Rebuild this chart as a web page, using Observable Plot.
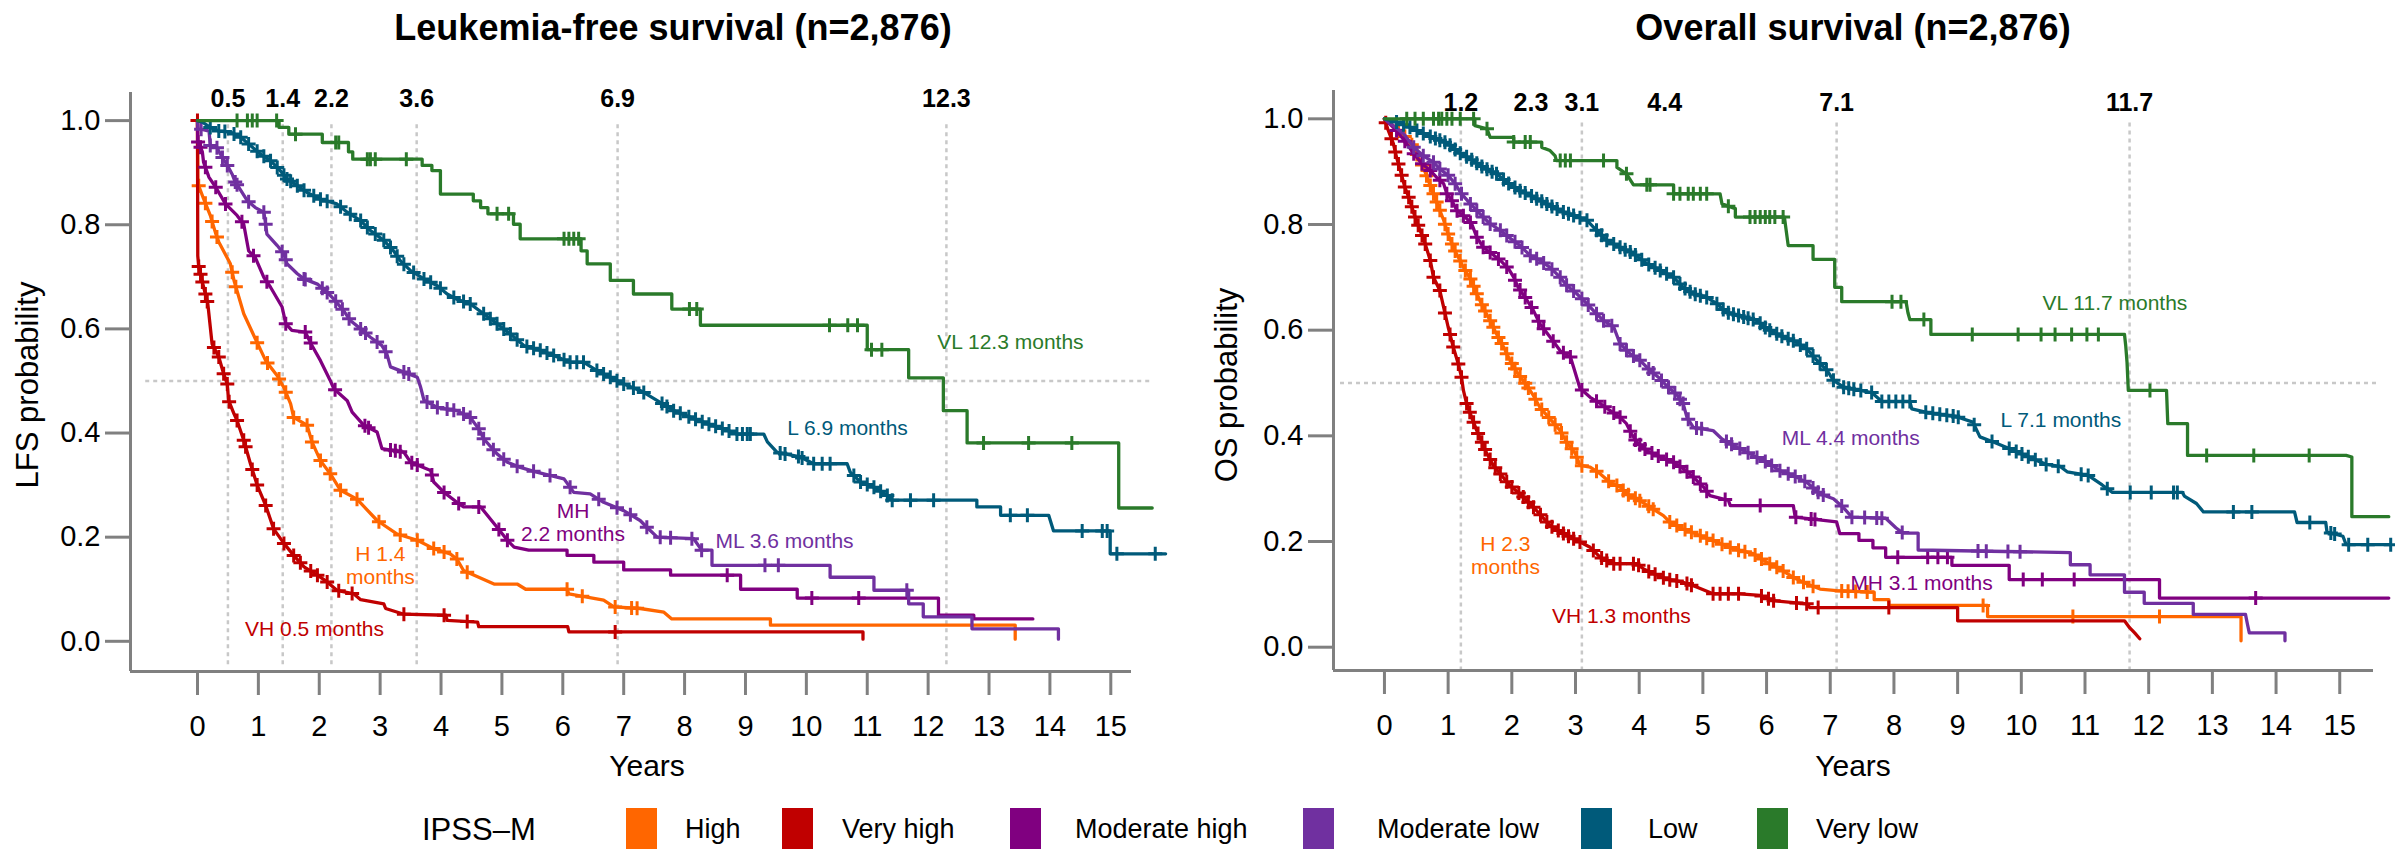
<!DOCTYPE html>
<html><head><meta charset="utf-8">
<script src="https://cdn.jsdelivr.net/npm/d3@7"></script>
<script src="https://cdn.jsdelivr.net/npm/@observablehq/plot@0.6"></script>
<style>
html,body{margin:0;padding:0;background:#fff;overflow:hidden;}
#root{position:relative;width:2395px;height:849px;font-family:"Liberation Sans",Arial,sans-serif;color:#000;}
.abs{position:absolute;white-space:nowrap;line-height:1;}
.panel{position:absolute;top:0;}
</style></head><body><div id="root"></div>
<script>
// ---------- categories & colours ----------
const groups = ["High", "Very high", "Moderate high", "Moderate low", "Low", "Very low"];
const groupColors = ["#FF6600", "#C00000", "#800080", "#7030A0", "#005A7A", "#2A7A2A"];
const legendTitle = "IPSS\u2013M";
const xTicks = [0,1,2,3,4,5,6,7,8,9,10,11,12,13,14,15];
const yTicks = [0, 0.2, 0.4, 0.6, 0.8, 1.0];

// ---------- Leukemia-free survival: curve vertices [years, probability] ----------
const lfsHigh = [[0,1],[0.005,0.88],[0.02,0.875],[0.10,0.85],[0.21,0.818],[0.30,0.783],[0.35,0.767],[0.54,0.725],[0.60,0.693],[0.76,0.629],[0.95,0.581],[1.12,0.539],[1.31,0.510],[1.42,0.487],[1.53,0.456],[1.58,0.43],[1.80,0.415],[1.88,0.383],[2.02,0.347],[2.18,0.322],[2.35,0.29],[2.62,0.273],[2.95,0.232],[3.28,0.206],[3.61,0.194],[3.88,0.178],[4.15,0.168],[4.26,0.158],[4.37,0.136],[4.48,0.13],[4.87,0.11],[5.25,0.11],[5.39,0.10],[6.07,0.10],[6.10,0.091],[6.67,0.079],[6.84,0.066],[7.27,0.063],[7.66,0.056],[7.79,0.043],[9.41,0.043],[9.41,0.031],[13.43,0.031],[13.43,0.004]];
const lfsVeryHigh = [[0,1],[0.005,0.74],[0.02,0.72],[0.08,0.69],[0.13,0.667],[0.17,0.648],[0.24,0.571],[0.35,0.546],[0.43,0.514],[0.49,0.494],[0.51,0.463],[0.60,0.437],[0.65,0.424],[0.76,0.386],[0.87,0.341],[0.98,0.30],[1.12,0.261],[1.25,0.216],[1.42,0.188],[1.58,0.165],[1.75,0.143],[1.97,0.127],[2.13,0.114],[2.29,0.098],[2.57,0.091],[2.68,0.080],[3.06,0.072],[3.09,0.063],[3.39,0.052],[4.08,0.050],[4.10,0.040],[4.60,0.037],[4.62,0.028],[6.08,0.028],[6.10,0.018],[10.93,0.018],[10.93,0.004]];
const lfsModHigh = [[0,1],[0.005,0.96],[0.03,0.955],[0.08,0.94],[0.10,0.92],[0.19,0.891],[0.30,0.872],[0.46,0.84],[0.65,0.818],[0.76,0.801],[0.84,0.75],[0.95,0.737],[1.09,0.699],[1.20,0.68],[1.39,0.642],[1.45,0.61],[1.55,0.597],[1.77,0.594],[1.88,0.568],[2.02,0.539],[2.18,0.501],[2.24,0.485],[2.46,0.462],[2.54,0.44],[2.73,0.415],[2.95,0.402],[3.03,0.37],[3.39,0.363],[3.50,0.344],[3.83,0.328],[3.88,0.306],[4.05,0.286],[4.26,0.267],[4.37,0.258],[4.65,0.258],[4.92,0.219],[5.09,0.194],[5.20,0.181],[5.44,0.175],[6.07,0.175],[6.07,0.165],[6.51,0.165],[6.51,0.152],[7.0,0.152],[7.0,0.137],[7.77,0.137],[7.77,0.127],[8.92,0.127],[8.92,0.10],[9.85,0.10],[9.85,0.083],[12.17,0.083],[12.17,0.05],[12.75,0.05],[12.75,0.043],[13.72,0.043]];
const lfsModLow = [[0,1],[0.01,0.985],[0.19,0.98],[0.21,0.952],[0.32,0.948],[0.41,0.929],[0.49,0.914],[0.57,0.897],[0.62,0.882],[0.68,0.872],[0.82,0.846],[0.95,0.833],[1.09,0.824],[1.12,0.801],[1.14,0.782],[1.31,0.76],[1.42,0.744],[1.47,0.725],[1.64,0.706],[1.75,0.696],[1.97,0.686],[2.13,0.67],[2.24,0.657],[2.40,0.635],[2.51,0.616],[2.68,0.60],[2.84,0.584],[3.03,0.568],[3.11,0.552],[3.17,0.527],[3.39,0.517],[3.61,0.507],[3.66,0.49],[3.72,0.463],[3.94,0.449],[4.26,0.443],[4.48,0.43],[4.62,0.408],[4.70,0.389],[4.92,0.36],[5.09,0.344],[5.30,0.334],[5.57,0.325],[6.02,0.312],[6.18,0.286],[6.45,0.283],[6.67,0.267],[7.0,0.251],[7.27,0.232],[7.38,0.219],[7.55,0.20],[8.15,0.197],[8.28,0.175],[8.45,0.175],[8.45,0.146],[10.39,0.146],[10.39,0.123],[11.11,0.123],[11.11,0.098],[11.68,0.098],[11.68,0.072],[11.92,0.072],[11.92,0.047],[12.72,0.047],[12.72,0.024],[14.14,0.024],[14.14,0.004]];
const lfsLow = [[0,1],[0.08,0.997],[0.21,0.987],[0.35,0.98],[0.54,0.978],[0.71,0.968],[0.87,0.952],[1.03,0.936],[1.20,0.923],[1.36,0.904],[1.47,0.888],[1.64,0.875],[1.80,0.862],[2.02,0.849],[2.29,0.84],[2.46,0.824],[2.68,0.808],[2.84,0.789],[3.06,0.77],[3.22,0.75],[3.33,0.731],[3.50,0.712],[3.72,0.696],[3.94,0.683],[4.10,0.667],[4.26,0.657],[4.48,0.648],[4.70,0.629],[4.92,0.61],[5.14,0.59],[5.36,0.568],[5.63,0.559],[5.91,0.546],[6.12,0.536],[6.34,0.536],[6.56,0.52],[6.78,0.507],[7.0,0.494],[7.3,0.48],[7.60,0.459],[7.82,0.443],[8.10,0.43],[8.37,0.418],[8.64,0.408],[8.86,0.398],[9.30,0.398],[9.36,0.383],[9.52,0.363],[9.90,0.354],[10.12,0.341],[10.67,0.341],[10.72,0.325],[10.89,0.306],[11.11,0.296],[11.33,0.28],[11.41,0.271],[12.80,0.271],[12.80,0.258],[13.19,0.258],[13.19,0.242],[13.98,0.242],[14.06,0.212],[14.99,0.212],[14.99,0.168],[15.9,0.168]];
const lfsVeryLow = [[0,1],[1.34,1],[1.34,0.987],[1.50,0.987],[1.50,0.974],[2.05,0.974],[2.05,0.958],[2.48,0.958],[2.48,0.94],[2.55,0.94],[2.55,0.926],[3.69,0.926],[3.69,0.914],[3.85,0.914],[3.85,0.904],[3.99,0.904],[3.99,0.859],[4.53,0.859],[4.53,0.846],[4.65,0.846],[4.65,0.833],[4.77,0.833],[4.77,0.821],[5.19,0.821],[5.19,0.801],[5.30,0.801],[5.30,0.773],[6.30,0.773],[6.30,0.75],[6.40,0.75],[6.40,0.725],[6.78,0.725],[6.78,0.693],[7.16,0.693],[7.16,0.667],[7.79,0.667],[7.79,0.638],[8.26,0.638],[8.26,0.607],[11.0,0.607],[11.0,0.56],[11.68,0.56],[11.68,0.506],[12.25,0.506],[12.25,0.443],[12.64,0.443],[12.64,0.381],[15.13,0.381],[15.13,0.256],[15.68,0.256]];

// censored observations (years)
const lfsHighCens = [0.02,0.13,0.24,0.32,0.57,0.63,0.98,1.15,1.34,1.45,1.58,1.80,1.88,2.02,2.18,2.35,2.62,2.98,3.33,3.61,3.88,4.05,4.26,4.43,6.07,6.32,6.86,7.13,7.22];
const lfsVeryHighCens = [0.0,0.02,0.05,0.08,0.13,0.16,0.27,0.35,0.43,0.49,0.52,0.65,0.76,0.79,0.90,0.98,1.12,1.25,1.42,1.58,1.69,1.86,1.97,2.13,2.32,2.54,3.39,4.05,4.43,6.86];
const lfsModHighCens = [0.01,0.05,0.13,0.30,0.46,0.73,0.92,1.14,1.45,1.77,1.86,2.26,2.75,2.81,3.17,3.25,3.33,3.52,3.61,3.85,4.05,4.29,4.62,4.95,5.09,8.70,10.09,10.86];
const lfsModLowCens = [0.06,0.21,0.32,0.41,0.49,0.62,0.65,0.84,1.09,1.12,1.39,1.45,1.75,1.77,2.05,2.13,2.27,2.38,2.49,2.68,2.76,2.95,3.09,3.39,3.47,3.77,3.94,4.10,4.21,4.37,4.48,4.62,4.70,4.86,5.03,5.25,5.52,5.79,6.12,6.59,6.89,7.11,7.38,7.60,7.77,8.12,8.28,9.32,9.54,11.65];
const lfsLowCens = [0.21,0.35,0.45,0.60,0.71,0.84,0.98,1.09,1.20,1.31,1.42,1.47,1.53,1.64,1.75,1.91,2.02,2.13,2.35,2.51,2.68,2.79,2.92,3.06,3.17,3.28,3.39,3.55,3.72,3.83,3.99,4.21,4.37,4.48,4.70,4.81,4.92,5.03,5.14,5.25,5.41,5.52,5.63,5.74,5.85,6.02,6.12,6.23,6.34,6.56,6.67,6.78,6.89,7.0,7.16,7.33,7.63,7.71,7.82,7.93,8.07,8.18,8.29,8.40,8.51,8.62,8.73,8.86,8.95,9.03,9.08,9.57,9.65,9.87,9.93,10.12,10.26,10.39,10.78,10.89,11.0,11.11,11.22,11.33,11.41,11.71,12.09,13.35,13.63,14.53,14.86,14.94,15.10,15.73];
const lfsVeryLowCens = [0.65,0.82,0.90,0.98,1.30,1.61,2.27,2.32,2.79,2.84,2.92,3.43,4.92,5.11,6.02,6.10,6.18,6.26,8.08,8.20,10.38,10.68,10.84,11.07,11.24,12.91,13.65,14.36];

// medians (years) with their printed labels
const lfsMedians = [0.5, 1.4, 2.2, 3.6, 6.9, 12.3];
const lfsMedianLabels = ["0.5", "1.4", "2.2", "3.6", "6.9", "12.3"];
const lfsGuides = [0.5, 1.4, 2.2, 3.6, 6.9, 12.3];
const lfsNotes = [
  {text: "VL 12.3 months", t: 12.15, p: 0.575, g: 5, anchor: "start"},
  {text: "L 6.9 months", t: 9.685, p: 0.411, g: 4, anchor: "start"},
  {text: "ML 3.6 months", t: 8.507, p: 0.194, g: 3, anchor: "start"},
  {text: "MH\n2.2 months", t: 6.167, p: 0.229, g: 2, anchor: "middle"},
  {text: "H 1.4\nmonths", t: 3.005, p: 0.146, g: 0, anchor: "middle"},
  {text: "VH 0.5 months", t: 1.921, p: 0.024, g: 1, anchor: "middle"}
];

// ---------- Overall survival ----------
const osHigh = [[0,1],[0.14,0.987],[0.25,0.975],[0.38,0.959],[0.46,0.946],[0.53,0.927],[0.61,0.908],[0.69,0.883],[0.77,0.858],[0.85,0.833],[0.93,0.808],[1.0,0.782],[1.08,0.757],[1.16,0.738],[1.24,0.719],[1.35,0.697],[1.45,0.669],[1.55,0.643],[1.66,0.618],[1.76,0.593],[1.87,0.568],[1.97,0.543],[2.10,0.517],[2.22,0.498],[2.34,0.476],[2.44,0.454],[2.60,0.432],[2.76,0.41],[2.86,0.388],[3.0,0.366],[3.07,0.344],[3.23,0.341],[3.39,0.328],[3.54,0.312],[3.70,0.303],[3.80,0.29],[3.96,0.281],[4.17,0.265],[4.38,0.249],[4.48,0.237],[4.69,0.224],[4.96,0.211],[5.22,0.199],[5.48,0.186],[5.79,0.177],[6.0,0.161],[6.21,0.148],[6.42,0.132],[6.63,0.12],[6.84,0.11],[7.10,0.107],[7.69,0.104],[7.69,0.09],[7.92,0.09],[7.92,0.079],[9.47,0.079],[9.47,0.058],[13.45,0.058],[13.45,0.012]];
const osVeryHigh = [[0,1],[0.06,0.978],[0.14,0.953],[0.19,0.927],[0.25,0.902],[0.32,0.871],[0.40,0.845],[0.48,0.814],[0.56,0.789],[0.64,0.763],[0.72,0.732],[0.77,0.70],[0.87,0.675],[0.93,0.643],[1.0,0.606],[1.08,0.568],[1.16,0.536],[1.21,0.511],[1.24,0.486],[1.29,0.461],[1.37,0.435],[1.45,0.41],[1.53,0.388],[1.61,0.366],[1.71,0.344],[1.82,0.328],[1.97,0.306],[2.13,0.29],[2.29,0.271],[2.44,0.252],[2.60,0.23],[2.81,0.215],[3.07,0.199],[3.23,0.189],[3.39,0.17],[3.60,0.158],[3.96,0.158],[4.07,0.148],[4.23,0.139],[4.43,0.129],[4.69,0.123],[4.90,0.114],[5.16,0.101],[5.58,0.101],[5.90,0.098],[6.11,0.088],[6.63,0.082],[6.68,0.075],[9.0,0.075],[9.0,0.05],[11.62,0.05],[11.70,0.037],[11.78,0.027],[11.86,0.016]];
const osModHigh = [[0,1],[0.19,0.978],[0.35,0.953],[0.46,0.934],[0.59,0.915],[0.72,0.902],[0.82,0.889],[0.93,0.877],[0.98,0.858],[1.06,0.845],[1.14,0.826],[1.27,0.814],[1.37,0.801],[1.45,0.776],[1.55,0.757],[1.68,0.745],[1.82,0.732],[1.95,0.716],[2.03,0.70],[2.10,0.681],[2.21,0.662],[2.34,0.637],[2.44,0.612],[2.60,0.587],[2.76,0.561],[2.92,0.549],[2.97,0.53],[3.07,0.49],[3.23,0.473],[3.39,0.461],[3.54,0.448],[3.70,0.435],[3.80,0.423],[3.88,0.404],[3.96,0.388],[4.12,0.372],[4.33,0.36],[4.54,0.35],[4.69,0.338],[4.85,0.322],[5.01,0.303],[5.11,0.287],[5.40,0.278],[5.43,0.268],[6.42,0.268],[6.45,0.246],[7.10,0.237],[7.15,0.215],[7.45,0.215],[7.45,0.202],[7.67,0.202],[7.67,0.188],[7.87,0.188],[7.87,0.170],[8.91,0.170],[8.91,0.155],[9.81,0.155],[9.81,0.128],[12.17,0.128],[12.17,0.093],[15.77,0.093]];
const osModLow = [[0,1],[0.30,0.972],[0.46,0.946],[0.61,0.93],[0.77,0.918],[0.87,0.905],[1.0,0.893],[1.11,0.877],[1.21,0.858],[1.35,0.839],[1.50,0.82],[1.66,0.801],[1.82,0.789],[1.95,0.776],[2.13,0.76],[2.29,0.741],[2.44,0.732],[2.60,0.719],[2.76,0.70],[2.86,0.685],[3.02,0.669],[3.18,0.65],[3.33,0.631],[3.44,0.618],[3.60,0.606],[3.70,0.574],[3.86,0.555],[4.01,0.543],[4.17,0.524],[4.30,0.511],[4.43,0.495],[4.59,0.478],[4.69,0.461],[4.75,0.435],[4.85,0.416],[5.16,0.41],[5.30,0.394],[5.48,0.382],[5.74,0.366],[6.0,0.35],[6.21,0.334],[6.42,0.325],[6.63,0.312],[6.84,0.29],[7.05,0.281],[7.20,0.265],[7.34,0.246],[7.87,0.244],[8.03,0.226],[8.14,0.216],[8.38,0.216],[8.38,0.184],[10.77,0.179],[10.77,0.156],[11.08,0.156],[11.08,0.137],[11.62,0.137],[11.62,0.104],[11.93,0.104],[11.93,0.083],[12.70,0.083],[12.70,0.062],[13.52,0.062],[13.55,0.044],[13.58,0.027],[14.14,0.027],[14.14,0.012]];
const osLow = [[0,1],[0.19,0.994],[0.40,0.984],[0.61,0.972],[0.82,0.962],[1.0,0.953],[1.16,0.937],[1.35,0.924],[1.55,0.908],[1.76,0.896],[1.92,0.88],[2.13,0.864],[2.34,0.852],[2.55,0.839],[2.76,0.826],[2.97,0.817],[3.18,0.808],[3.33,0.789],[3.49,0.77],[3.70,0.757],[3.91,0.745],[4.12,0.726],[4.33,0.713],[4.54,0.70],[4.69,0.681],[4.85,0.669],[5.06,0.662],[5.22,0.65],[5.37,0.634],[5.64,0.625],[5.85,0.618],[6.0,0.603],[6.21,0.59],[6.42,0.58],[6.63,0.565],[6.79,0.543],[6.95,0.524],[7.05,0.505],[7.21,0.492],[7.65,0.482],[7.81,0.465],[8.25,0.465],[8.28,0.451],[8.53,0.444],[8.96,0.437],[9.24,0.426],[9.35,0.398],[9.57,0.388],[9.79,0.377],[10.06,0.363],[10.39,0.346],[10.61,0.342],[10.72,0.332],[11.05,0.325],[11.27,0.307],[11.43,0.293],[12.53,0.293],[12.56,0.286],[12.75,0.272],[12.86,0.256],[14.29,0.256],[14.33,0.236],[14.78,0.236],[14.80,0.218],[15.05,0.21],[15.10,0.194],[15.80,0.194]];
const osVeryLow = [[0,1],[1.42,1],[1.42,0.987],[1.61,0.981],[1.66,0.965],[2.03,0.965],[2.03,0.956],[2.47,0.956],[2.47,0.946],[2.60,0.94],[2.68,0.93],[2.70,0.921],[3.65,0.921],[3.65,0.908],[3.80,0.896],[3.91,0.875],[4.54,0.875],[4.54,0.858],[5.27,0.858],[5.30,0.839],[5.51,0.83],[5.51,0.814],[6.28,0.814],[6.34,0.76],[6.73,0.76],[6.73,0.734],[7.07,0.734],[7.07,0.681],[7.18,0.681],[7.18,0.654],[8.19,0.654],[8.22,0.633],[8.25,0.62],[8.58,0.62],[8.58,0.592],[11.62,0.592],[11.64,0.57],[11.66,0.539],[11.68,0.486],[12.28,0.486],[12.30,0.423],[12.61,0.423],[12.61,0.363],[15.10,0.363],[15.19,0.36],[15.19,0.247],[15.77,0.247]];

const osHighCens = [0.22,0.32,0.43,0.51,0.59,0.66,0.72,0.77,0.82,0.87,0.95,1.0,1.06,1.11,1.19,1.27,1.35,1.40,1.45,1.53,1.58,1.66,1.71,1.79,1.84,1.92,2.0,2.05,2.13,2.21,2.26,2.37,2.47,2.58,2.68,2.78,2.86,2.94,3.02,3.10,3.33,3.52,3.65,3.75,3.83,3.94,4.01,4.15,4.22,4.48,4.59,4.72,4.82,4.96,5.06,5.16,5.30,5.43,5.56,5.66,5.82,5.92,6.05,6.16,6.26,6.42,6.58,6.73,7.18,7.28,7.40,7.58,9.40,10.81,12.17];
const osVeryHighCens = [0.02,0.11,0.17,0.22,0.27,0.32,0.38,0.43,0.48,0.53,0.59,0.64,0.72,0.77,0.87,0.95,1.03,1.08,1.16,1.21,1.29,1.34,1.40,1.47,1.53,1.58,1.66,1.74,1.82,1.92,2.0,2.11,2.18,2.26,2.34,2.45,2.55,2.63,2.73,2.81,2.89,2.97,3.07,3.28,3.41,3.49,3.60,3.70,3.91,3.99,4.15,4.25,4.38,4.48,4.59,4.75,4.82,5.16,5.27,5.40,5.56,5.92,6.03,6.11,6.47,6.63,6.81,7.92];
const osModHighCens = [0.19,0.32,0.46,0.59,0.72,0.87,0.98,1.06,1.14,1.24,1.35,1.45,1.55,1.66,1.79,1.92,2.05,2.13,2.21,2.31,2.42,2.50,2.65,2.81,2.92,3.10,3.33,3.46,3.60,3.70,3.86,3.94,4.01,4.09,4.20,4.30,4.43,4.54,4.64,4.75,4.85,4.96,5.06,5.35,5.90,6.46,6.70,6.76,8.06,8.53,8.69,8.84,10.03,10.33,10.83,13.68];
const osModLowCens = [0.46,0.61,0.77,0.87,1.0,1.11,1.21,1.35,1.45,1.55,1.66,1.82,1.92,2.05,2.16,2.29,2.39,2.50,2.63,2.76,2.86,2.97,3.10,3.20,3.33,3.44,3.57,3.70,3.80,3.91,4.01,4.15,4.22,4.35,4.46,4.56,4.64,4.69,4.77,4.90,4.98,5.37,5.45,5.58,5.71,5.85,5.98,6.08,6.21,6.34,6.45,6.60,6.73,6.81,6.89,7.18,7.34,7.54,7.73,7.81,8.13,9.32,9.45,9.79,9.98];
const osLowCens = [0.19,0.30,0.40,0.51,0.61,0.72,0.80,0.87,0.95,1.03,1.11,1.19,1.29,1.37,1.45,1.53,1.61,1.69,1.76,1.87,1.95,2.05,2.13,2.21,2.31,2.39,2.47,2.55,2.63,2.71,2.81,2.89,2.97,3.07,3.18,3.33,3.41,3.49,3.60,3.70,3.78,3.86,3.94,4.04,4.15,4.25,4.33,4.43,4.54,4.64,4.72,4.80,4.88,4.96,5.06,5.22,5.32,5.40,5.48,5.56,5.64,5.71,5.79,5.90,5.98,6.05,6.16,6.24,6.34,6.42,6.53,6.63,6.73,6.84,6.94,7.05,7.21,7.29,7.37,7.48,7.65,7.81,7.92,8.03,8.14,8.25,8.50,8.61,8.72,8.83,8.93,9.01,9.26,9.54,9.81,9.92,10.01,10.11,10.22,10.39,10.58,10.94,11.05,11.35,11.71,12.04,12.39,12.45,13.33,13.62,14.53,14.86,14.92,15.14,15.44,15.80];
const osVeryLowCens = [0.35,0.48,0.61,0.77,0.85,0.90,0.98,1.06,1.19,1.40,1.61,2.03,2.21,2.29,2.76,2.84,2.92,3.44,3.80,4.12,4.17,4.54,4.64,4.77,4.85,4.96,5.06,5.40,5.74,5.82,5.90,5.98,6.05,6.13,6.26,7.97,8.11,8.47,9.23,9.95,10.31,10.53,10.79,11.03,11.21,12.02,12.91,13.65,14.52];

const osMedians = [1.2, 2.3, 3.1, 4.4, 7.1, 11.7];
const osMedianLabels = ["1.2", "2.3", "3.1", "4.4", "7.1", "11.7"];
const osGuides = [1.2, 3.1, 7.1, 11.7];
const osNotes = [
  {text: "VL 11.7 months", t: 10.334, p: 0.6525, g: 5, anchor: "start"},
  {text: "L 7.1 months", t: 9.675, p: 0.431, g: 4, anchor: "start"},
  {text: "ML 4.4 months", t: 6.237, p: 0.397, g: 3, anchor: "start"},
  {text: "MH 3.1 months", t: 7.316, p: 0.123, g: 2, anchor: "start"},
  {text: "H 2.3\nmonths", t: 1.90, p: 0.1735, g: 0, anchor: "middle"},
  {text: "VH 1.3 months", t: 3.72, p: 0.06, g: 1, anchor: "middle"}
];

// ---------- rendering ----------
const FONT = '"Liberation Sans", Arial, sans-serif';
const AXIS = "#808080";
const GUIDE = "#c8c8c8";
const plusSymbol = {draw(ctx, size) { const r = Math.sqrt(size / Math.PI); ctx.moveTo(-r, 0); ctx.lineTo(r, 0); ctx.moveTo(0, -r); ctx.lineTo(0, r); }};

function survAt(pts, c) {
  let i = 0;
  for (let k = 0; k < pts.length; k++) if (pts[k][0] <= c) i = k;
  if (i >= pts.length - 1) return pts[pts.length - 1][1];
  const [t0, s0] = pts[i], [t1, s1] = pts[i + 1];
  return t1 === t0 ? s1 : s0 + (s1 - s0) * (c - t0) / (t1 - t0);
}

function panel(cfg) {
  const marks = [
    Plot.ruleX(cfg.guides, {x: d => d, y1: -0.045, y2: 0.995, stroke: GUIDE, strokeWidth: 2.5, strokeDasharray: "4,4"}),
    Plot.ruleY([0.5], {y: d => d, x1: cfg.hline[0], x2: cfg.hline[1], stroke: GUIDE, strokeWidth: 2.5, strokeDasharray: "4,4"})
  ];
  cfg.curves.forEach((pts, gi) => {
    const col = groupColors[gi];
    marks.push(Plot.line(pts, {x: d => d[0], y: d => d[1], stroke: col, strokeWidth: 3.3}));
    const cens = cfg.cens[gi].map(c => ({t: c, s: survAt(pts, c)}));
    marks.push(Plot.dot(cens, {x: "t", y: "s", r: 7, symbol: plusSymbol, fill: "none", stroke: col, strokeWidth: 3}));
  });
  const startNotes = cfg.notes.filter(d => d.anchor === "start");
  const midNotes = cfg.notes.filter(d => d.anchor === "middle");
  marks.push(
    Plot.ruleX([cfg.xdom[0]], {x: d => d, stroke: AXIS, strokeWidth: 3}),
    Plot.ruleY([cfg.ydom[0]], {y: d => d, stroke: AXIS, strokeWidth: 3}),
    Plot.axisX({ticks: xTicks, tickSize: 24, tickPadding: 20, fontSize: 29, stroke: AXIS, strokeWidth: 3, fill: "black", tickFormat: d => String(d), label: null}),
    Plot.axisY({ticks: yTicks, tickSize: 25, tickPadding: 5, fontSize: 29, stroke: AXIS, strokeWidth: 3, fill: "black", tickFormat: d3.format(".1f"), label: null}),
    Plot.text(cfg.medians, {x: d => d, y: cfg.medY, text: (d, i) => cfg.medianLabels[i], fontWeight: "bold", fontSize: 25, fill: "black"}),
    Plot.text(startNotes, {x: "t", y: "p", text: "text", textAnchor: "start", fill: d => groupColors[d.g], fontSize: 21, lineHeight: 1.1}),
    Plot.text(midNotes, {x: "t", y: "p", text: "text", textAnchor: "middle", fill: d => groupColors[d.g], fontSize: 21, lineHeight: 1.1})
  );
  return Plot.plot({
    width: cfg.width, height: 800,
    marginLeft: cfg.ml, marginRight: cfg.mr, marginTop: cfg.mt, marginBottom: cfg.mb,
    x: {domain: cfg.xdom}, y: {domain: cfg.ydom},
    color: {type: "identity"},
    style: {fontFamily: FONT, background: "transparent"},
    marks
  });
}

const root = document.getElementById("root");
function addPanel(svg, left) {
  const d = document.createElement("div");
  d.className = "panel"; d.style.left = left + "px";
  d.appendChild(svg); root.appendChild(d);
}

addPanel(panel({
  width: 1197, ml: 130, mr: 66, mt: 92, mb: 129,
  xdom: [-1.10, 15.34], ydom: [-0.058, 1.054],
  curves: [lfsHigh, lfsVeryHigh, lfsModHigh, lfsModLow, lfsLow, lfsVeryLow],
  cens: [lfsHighCens, lfsVeryHighCens, lfsModHighCens, lfsModLowCens, lfsLowCens, lfsVeryLowCens],
  guides: lfsGuides, hline: [-0.85, 15.68],
  medians: lfsMedians, medianLabels: lfsMedianLabels, medY: 1.042,
  notes: lfsNotes
}), 0);

addPanel(panel({
  width: 1198, ml: 136, mr: 22, mt: 90, mb: 130,
  xdom: [-0.80, 15.53], ydom: [-0.0441, 1.0536],
  curves: [osHigh, osVeryHigh, osModHigh, osModLow, osLow, osVeryLow],
  cens: [osHighCens, osVeryHighCens, osModHighCens, osModLowCens, osLowCens, osVeryLowCens],
  guides: osGuides, hline: [-0.69, 15.6],
  medians: osMedians, medianLabels: osMedianLabels, medY: 1.029,
  notes: osNotes
}), 1197);

// ---------- HTML text: titles, axis titles, legend ----------
function addText(txt, x, y, size, opts = {}) {
  const d = document.createElement("div");
  d.className = "abs"; d.textContent = txt;
  d.style.fontSize = size + "px";
  d.style.left = x + "px"; d.style.top = y + "px";
  d.style.fontWeight = opts.bold ? "bold" : "normal";
  d.style.transform = opts.transform || "translate(-50%,-50%)";
  root.appendChild(d);
  return d;
}
addText("Leukemia-free survival (n=2,876)", 673, 28, 36, {bold: true});
addText("Overall survival (n=2,876)", 1853, 28, 36, {bold: true});
addText("LFS probability", 27, 385, 31, {transform: "translate(-50%,-50%) rotate(-90deg)"});
addText("OS probability", 1226, 385, 31, {transform: "translate(-50%,-50%) rotate(-90deg)"});
addText("Years", 647, 766, 30);
addText("Years", 1853, 766, 30);

const legendSwatchX = [626, 782, 1010, 1303, 1581, 1757];
const legendLabelX = [685, 842, 1075, 1377, 1648, 1816];
addText(legendTitle, 422, 829, 31, {transform: "translate(0,-50%)"});
groups.forEach((g, i) => {
  const s = document.createElement("div");
  s.style.position = "absolute"; s.style.left = legendSwatchX[i] + "px"; s.style.top = "808px";
  s.style.width = "31px"; s.style.height = "45px"; s.style.background = groupColors[i];
  root.appendChild(s);
  addText(g, legendLabelX[i], 829, 27, {transform: "translate(0,-50%)"});
});
</script></body></html>
